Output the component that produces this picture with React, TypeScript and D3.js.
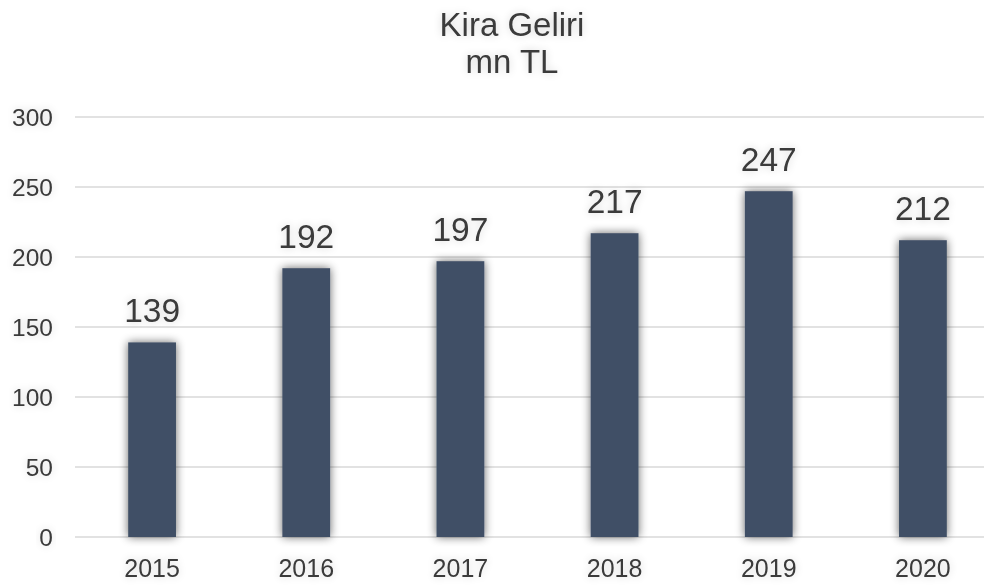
import React from "react";
import * as d3 from "d3";

const categories = ["2015", "2016", "2017", "2018", "2019", "2020"];
const values = [139, 192, 197, 217, 247, 212];
const yTicks = [0, 50, 100, 150, 200, 250, 300];
const titleLines = ["Kira Geliri", "mn TL"];

export default function App() {
  const W = 984, H = 585;
  const font = "'Liberation Sans', Arial, sans-serif";
  const x = d3.scaleBand<string>().domain(categories).range([75, 1000]).paddingInner(0.69).paddingOuter(0.345);
  const y = d3.scaleLinear().domain([0, 300]).range([537, 117]);
  return (
    <svg width={W} height={H} style={{ position: "absolute", left: 0, top: 0, background: "#fff" }}>
      <defs>
        <filter id="shadow" x="-50%" y="-20%" width="200%" height="140%">
          <feGaussianBlur in="SourceAlpha" stdDeviation="5" />
          <feComponentTransfer><feFuncA type="linear" slope="0.6" /></feComponentTransfer>
          <feMerge><feMergeNode /><feMergeNode in="SourceGraphic" /></feMerge>
        </filter>
        <filter id="tglow" x="-20%" y="-30%" width="140%" height="160%">
          <feGaussianBlur in="SourceAlpha" stdDeviation="4" />
          <feComponentTransfer><feFuncA type="linear" slope="0.18" /></feComponentTransfer>
          <feMerge><feMergeNode /><feMergeNode in="SourceGraphic" /></feMerge>
        </filter>
      </defs>
      {yTicks.map((t) => (
        <g key={t}>
          <line x1={75} x2={W} y1={y(t)} y2={y(t)} stroke="#d9d9d9" strokeWidth={1.5} />
          <text x={53} y={y(t)} dy="0.35em" textAnchor="end" fontFamily={font} fontSize={24.5} fill="#3a3a3a" filter="url(#tglow)">{t}</text>
        </g>
      ))}
      {categories.map((c, i) => (
        <g key={c}>
          <rect x={x(c)} y={y(values[i])} width={x.bandwidth()} height={y(0) - y(values[i])} fill="#415066" filter="url(#shadow)" />
          <text x={(x(c) ?? 0) + x.bandwidth() / 2} y={y(values[i]) - 20} textAnchor="middle" fontFamily={font} fontSize={33.5} fill="#3a3a3a" filter="url(#tglow)">{values[i]}</text>
          <text x={(x(c) ?? 0) + x.bandwidth() / 2} y={577} textAnchor="middle" fontFamily={font} fontSize={25} fill="#3a3a3a" filter="url(#tglow)">{c}</text>
        </g>
      ))}
      {titleLines.map((l, i) => (
        <text key={l} x={512} y={36 + i * 37} textAnchor="middle" fontFamily={font} fontSize={33} fill="#3a3a3a" filter="url(#tglow)">{l}</text>
      ))}
    </svg>
  );
}
